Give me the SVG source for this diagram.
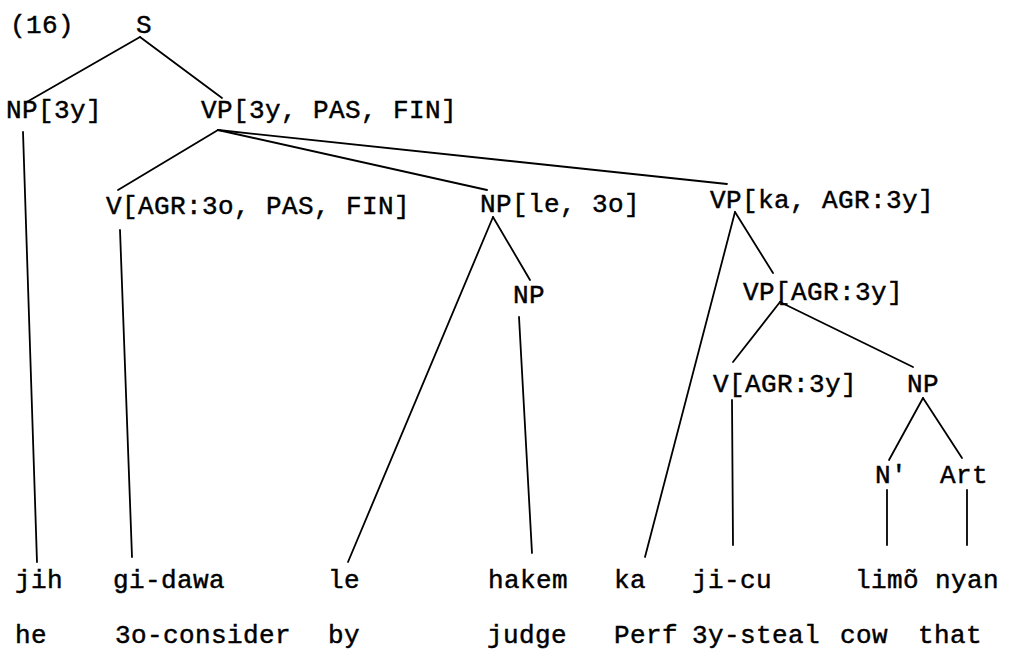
<svg xmlns="http://www.w3.org/2000/svg" width="1013" height="652" viewBox="0 0 1013 652">
<style>
text{font-family:"Liberation Mono","Courier New",monospace;font-size:26px;letter-spacing:0.4px;fill:#000;stroke:#000;stroke-width:0.45px}
.c line{stroke:#000;stroke-width:1.8;stroke-linecap:round}
</style>
<rect width="1013" height="652" fill="#fff"/>
<text x="10" y="33">(16)</text>
<g id="S"><text x="136" y="33">S</text></g>
<g id="NP3y"><text x="6" y="118">NP[3y]</text></g>
<g id="VPtop"><text x="201" y="118">VP[3y, PAS, FIN]</text></g>
<g id="Vagr3o"><text x="106" y="214">V[AGR:3o, PAS, FIN]</text></g>
<g id="NPle"><text x="480" y="212">NP[le, 3o]</text></g>
<g id="VPka"><text x="710" y="208">VP[ka, AGR:3y]</text></g>
<g id="NPinner"><text x="513" y="303">NP</text></g>
<g id="VPagr"><text x="743" y="300">VP[AGR:3y]</text></g>
<g id="Vagr3y"><text x="713" y="392">V[AGR:3y]</text></g>
<g id="NPcow"><text x="907" y="392">NP</text></g>
<g id="Nbar"><text x="875" y="483">N'</text></g>
<g id="Art"><text x="940" y="483">Art</text></g>
<g id="w-jih"><text x="15" y="588">jih</text><text x="15" y="643">he</text></g>
<g id="w-gidawa"><text x="113" y="588">gi-dawa</text><text x="115" y="643">3o-consider</text></g>
<g id="w-le"><text x="328" y="588">le</text><text x="328" y="643">by</text></g>
<g id="w-hakem"><text x="488" y="588">hakem</text><text x="487" y="643">judge</text></g>
<g id="w-ka"><text x="614" y="588">ka</text><text x="614" y="643">Perf</text></g>
<g id="w-jicu"><text x="692" y="588">ji-cu</text><text x="692" y="643">3y-steal</text></g>
<g id="w-limo"><text x="855" y="588">limõ</text><text x="840" y="643">cow</text></g>
<g id="w-nyan"><text x="935" y="588">nyan</text><text x="918" y="643">that</text></g>
<g id="connectors" class="c">
<line x1="140" y1="37" x2="25" y2="103"/>
<line x1="140" y1="37" x2="222" y2="98"/>
<line x1="23" y1="132" x2="37" y2="562"/>
<line x1="218" y1="130" x2="118" y2="190"/>
<line x1="218" y1="130" x2="487" y2="190"/>
<line x1="218" y1="130" x2="727" y2="184"/>
<line x1="120" y1="230" x2="132" y2="557"/>
<line x1="493" y1="217" x2="348" y2="562"/>
<line x1="493" y1="217" x2="530" y2="280"/>
<line x1="519" y1="317" x2="532" y2="553"/>
<line x1="735" y1="212" x2="645" y2="557"/>
<line x1="735" y1="212" x2="773" y2="273"/>
<line x1="780" y1="302" x2="733" y2="362"/>
<line x1="780" y1="302" x2="913" y2="367"/>
<line x1="732" y1="400" x2="733" y2="545"/>
<line x1="923" y1="398" x2="889" y2="460"/>
<line x1="923" y1="398" x2="962" y2="458"/>
<line x1="887" y1="490" x2="887" y2="545"/>
<line x1="967" y1="490" x2="967" y2="545"/>
</g>
</svg>
